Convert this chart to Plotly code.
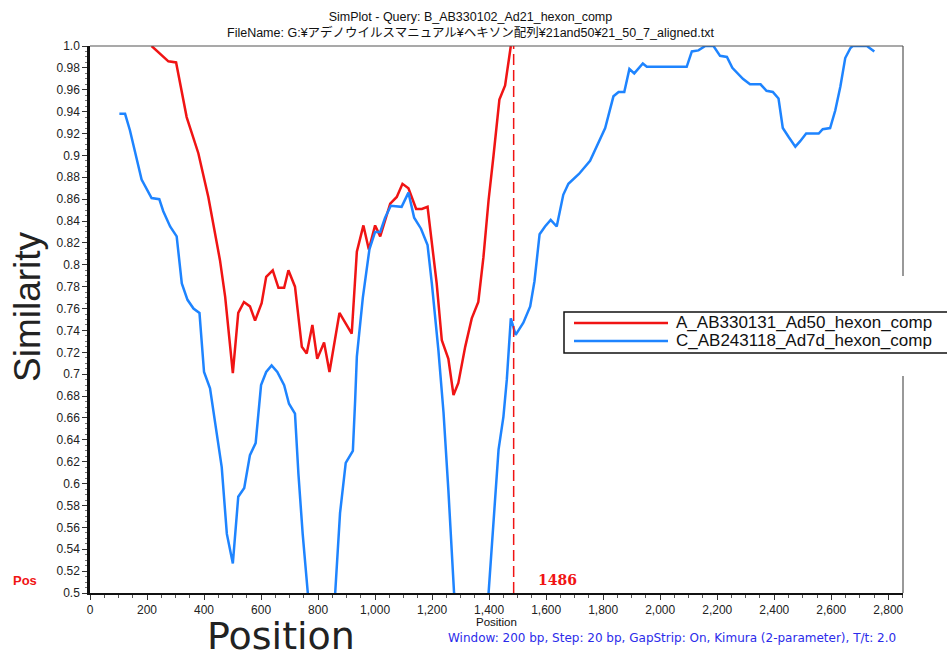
import plotly.graph_objects as go

# ---------------- data ----------------
pos_A = [216, 275, 302, 339, 380, 415, 456, 474, 501, 520, 540, 561, 579, 602, 618, 641,
         661, 681, 696, 719, 743, 760, 780, 797, 821, 840, 875, 918, 936, 959, 978, 1000,
         1018, 1035, 1053, 1076, 1096, 1117, 1144, 1164, 1184, 1216, 1234, 1257, 1275, 1292,
         1316, 1339, 1362, 1380, 1398, 1415, 1436, 1456, 1476]
sim_A = [1.0, 0.986, 0.985, 0.935, 0.902, 0.862, 0.804, 0.771, 0.701, 0.756, 0.766, 0.762,
         0.749, 0.765, 0.789, 0.795, 0.779, 0.779, 0.795, 0.780, 0.725, 0.719, 0.745, 0.714,
         0.729, 0.702, 0.756, 0.737, 0.812, 0.836, 0.814, 0.836, 0.826, 0.840, 0.856, 0.862,
         0.874, 0.870, 0.851, 0.851, 0.853, 0.783, 0.731, 0.714, 0.681, 0.692, 0.725, 0.751,
         0.766, 0.807, 0.859, 0.899, 0.951, 0.964, 1.0]

pos_C = [103, 123, 140, 158, 181, 216, 243, 257, 281, 304, 316, 322, 342, 363, 384, 388,
         400, 421, 444, 462, 480, 501, 520, 541, 561, 581, 600, 618, 637, 657, 681, 698,
         719, 731, 746, 764, 780, 840, 860, 877, 897, 922, 930, 936, 957, 980, 1000, 1018,
         1035, 1055, 1093, 1117, 1137, 1161, 1184, 1199, 1222, 1240, 1257, 1269, 1277, 1300,
         1380, 1398, 1415, 1433, 1450, 1462, 1476, 1493, 1520, 1544, 1559, 1577, 1596, 1616,
         1637, 1660, 1678, 1715, 1754, 1778, 1807, 1836, 1854, 1874, 1892, 1909, 1939, 1953,
         2093, 2111, 2134, 2158, 2187, 2210, 2234, 2253, 2290, 2315, 2352, 2373, 2395, 2415,
         2430, 2450, 2474, 2491, 2512, 2556, 2570, 2596, 2614, 2632, 2649, 2667, 2675, 2725,
         2731, 2751]
sim_C = [0.938, 0.938, 0.923, 0.902, 0.878, 0.861, 0.860, 0.849, 0.835, 0.826, 0.801, 0.783,
         0.768, 0.760, 0.756, 0.740, 0.702, 0.687, 0.646, 0.615, 0.554, 0.527, 0.588, 0.596,
         0.626, 0.637, 0.690, 0.702, 0.708, 0.702, 0.690, 0.673, 0.664, 0.609, 0.554, 0.500,
         0.470, 0.470, 0.500, 0.573, 0.619, 0.630, 0.676, 0.716, 0.770, 0.814, 0.830, 0.830,
         0.843, 0.854, 0.853, 0.866, 0.843, 0.833, 0.818, 0.783, 0.722, 0.665, 0.594, 0.533,
         0.500, 0.450, 0.450, 0.500, 0.567, 0.631, 0.661, 0.695, 0.751, 0.736, 0.747, 0.762,
         0.785, 0.828, 0.835, 0.841, 0.835, 0.864, 0.874, 0.883, 0.895, 0.908, 0.925, 0.954,
         0.958, 0.958, 0.979, 0.975, 0.984, 0.981, 0.981, 0.995, 0.996, 1.0, 1.0, 0.991,
         0.990, 0.980, 0.970, 0.965, 0.965, 0.959, 0.958, 0.952, 0.925, 0.917, 0.908, 0.913,
         0.920, 0.920, 0.924, 0.925, 0.941, 0.963, 0.989, 0.998, 1.0, 1.0, 0.999, 0.995]

name_A = "A_AB330131_Ad50_hexon_comp"
name_C = "C_AB243118_Ad7d_hexon_comp"
query_pos = 1486

x_tickvals = [0, 200, 400, 600, 800, 1000, 1200, 1400, 1600, 1800, 2000, 2200, 2400, 2600, 2800]
x_ticktext = ["0", "200", "400", "600", "800", "1,000", "1,200", "1,400", "1,600", "1,800",
              "2,000", "2,200", "2,400", "2,600", "2,800"]
y_tickvals = [0.5, 0.52, 0.54, 0.56, 0.58, 0.6, 0.62, 0.64, 0.66, 0.68, 0.7, 0.72, 0.74, 0.76,
              0.78, 0.8, 0.82, 0.84, 0.86, 0.88, 0.9, 0.92, 0.94, 0.96, 0.98, 1.0]
y_ticktext = ["0.5", "0.52", "0.54", "0.56", "0.58", "0.6", "0.62", "0.64", "0.66", "0.68",
              "0.7", "0.72", "0.74", "0.76", "0.78", "0.8", "0.82", "0.84", "0.86", "0.88",
              "0.9", "0.92", "0.94", "0.96", "0.98", "1.0"]

title1 = "SimPlot - Query: B_AB330102_Ad21_hexon_comp"
title2 = "FileName: G:¥アデノウイルスマニュアル¥ヘキソン配列¥21and50¥21_50_7_aligned.txt"
footer = "Window: 200 bp, Step: 20 bp, GapStrip: On, Kimura (2-parameter), T/t: 2.0"

# ---------------- layout geometry ----------------
W, H = 947, 660
L, R, T, B = 90, 903, 46, 593
RED = "#f01414"
BLUE = "#1e84ff"
SANS = "Liberation Sans, Arial, sans-serif"
JPFONT = "Liberation Sans, Noto Sans CJK JP, sans-serif"


def px(xp):
    return (xp - L) / (R - L)


def py(yp):
    return (B - yp) / (B - T)


fig = go.Figure()
fig.add_trace(go.Scatter(x=pos_A, y=sim_A, mode="lines", name=name_A,
                         line=dict(color=RED, width=2.5), showlegend=False))
fig.add_trace(go.Scatter(x=pos_C, y=sim_C, mode="lines", name=name_C,
                         line=dict(color=BLUE, width=2.5), showlegend=False))

shapes = [
    # top and right frame
    dict(type="line", xref="paper", yref="paper", x0=0, x1=1, y0=1, y1=1,
         line=dict(color="#555555", width=1.2), layer="above"),
    dict(type="line", xref="paper", yref="paper", x0=1, x1=1, y0=0, y1=1,
         line=dict(color="#555555", width=1.2), layer="above"),
    # query position marker
    dict(type="line", xref="x", yref="paper", x0=query_pos, x1=query_pos, y0=0, y1=1,
         line=dict(color=RED, width=1.5, dash="11px,5px"), layer="above"),
    # legend white area + box
    dict(type="rect", xref="paper", yref="paper", x0=px(560), x1=px(960), y0=py(376), y1=py(276),
         fillcolor="white", line=dict(width=0), layer="above"),
    dict(type="rect", xref="paper", yref="paper", x0=px(564), x1=px(990), y0=py(353), y1=py(312),
         fillcolor="white", line=dict(color="#111111", width=1.5), layer="above"),
    dict(type="line", xref="paper", yref="paper", x0=px(574), x1=px(668), y0=py(323), y1=py(323),
         line=dict(color=RED, width=2.5), layer="above"),
    dict(type="line", xref="paper", yref="paper", x0=px(574), x1=px(668), y0=py(341), y1=py(341),
         line=dict(color=BLUE, width=2.5), layer="above"),
]

ann = [
    dict(text=title1 + "<br>" + title2, x=px(470), y=py(25.5), xref="paper", yref="paper",
         showarrow=False, xanchor="center", yanchor="middle", align="center",
         font=dict(size=12.5, color="#111", family=JPFONT)),
    dict(text="Similarity", x=px(27), y=py(306), xref="paper", yref="paper", showarrow=False,
         textangle=-90, xanchor="center", yanchor="middle",
         font=dict(size=37, color="#222", family=SANS)),
    dict(text="Position", x=px(281), y=py(660), xref="paper", yref="paper", showarrow=False,
         xanchor="center", yanchor="bottom",
         font=dict(size=38, color="#222", family="DejaVu Sans, sans-serif")),
    dict(text="Position", x=px(496), y=py(622), xref="paper", yref="paper", showarrow=False,
         xanchor="center", yanchor="middle", font=dict(size=11.5, color="#111", family=SANS)),
    dict(text=footer, x=px(898), y=py(638), xref="paper", yref="paper", showarrow=False,
         xanchor="right", yanchor="middle",
         font=dict(size=12, color="#2b2bea", family="DejaVu Sans, sans-serif")),
    dict(text="<b>Pos</b>", x=px(25), y=py(580), xref="paper", yref="paper", showarrow=False,
         xanchor="center", yanchor="middle",
         font=dict(size=13, color=RED, family=SANS)),
    dict(text="<b>" + str(query_pos) + "</b>", x=query_pos, y=py(580), xref="x", yref="paper",
         showarrow=False, xanchor="left", yanchor="middle", xshift=22,
         font=dict(size=14, color=RED, family="DejaVu Serif, Liberation Serif, serif")),
    dict(text=name_A, x=px(674), y=py(322), xref="paper", yref="paper", showarrow=False,
         xanchor="left", yanchor="middle",
         font=dict(size=17, color="#111", family=SANS)),
    dict(text=name_C, x=px(674), y=py(340), xref="paper", yref="paper", showarrow=False,
         xanchor="left", yanchor="middle",
         font=dict(size=17, color="#111", family=SANS)),
]

fig.update_layout(
    width=W, height=H,
    margin=dict(l=L, r=W - R, t=T, b=H - B, pad=0),
    paper_bgcolor="white", plot_bgcolor="white",
    showlegend=False,
    shapes=shapes, annotations=ann,
    xaxis=dict(range=[0, (R - L) / 0.2851], tickvals=x_tickvals, ticktext=x_ticktext,
               showgrid=False, zeroline=False, showline=True, linecolor="#111", linewidth=2,
               ticks="outside", ticklen=5, tickwidth=1, tickcolor="#333",
               minor=dict(dtick=50, ticks="outside", ticklen=3, tickcolor="#555", showgrid=False),
               tickfont=dict(size=12, color="#222", family=SANS)),
    yaxis=dict(range=[0.5, 1.0], tickvals=y_tickvals, ticktext=y_ticktext,
               showgrid=False, zeroline=False, showline=True, linecolor="#111", linewidth=2.5,
               ticks="outside", ticklen=5, tickwidth=1, tickcolor="#333",
               minor=dict(dtick=0.005, ticks="outside", ticklen=2, tickcolor="#777", showgrid=False),
               tickfont=dict(size=12, color="#222", family=SANS)),
)

fig.write_html("out.html")
